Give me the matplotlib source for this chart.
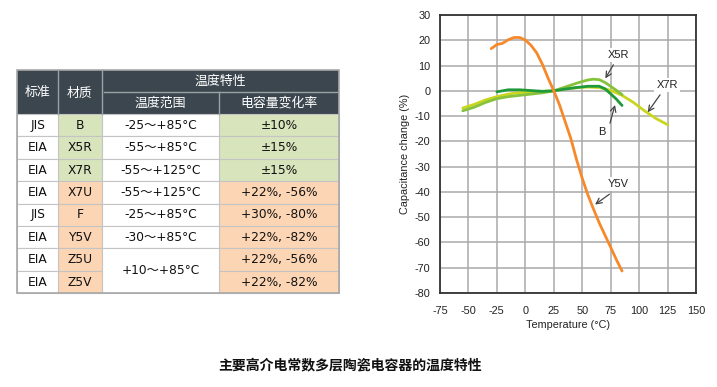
import matplotlib
matplotlib.use("Agg")
import matplotlib.pyplot as plt
from matplotlib.patches import Rectangle

plt.rcParams["axes.unicode_minus"] = False

# ---------------- data ----------------
# Table
col_header_std = "标准"
col_header_mat = "材质"
col_header_group = "温度特性"
col_header_range = "温度范围"
col_header_rate = "电容量变化率"
standards = ["JIS", "EIA", "EIA", "EIA", "JIS", "EIA", "EIA", "EIA"]
materials = ["B", "X5R", "X7R", "X7U", "F", "Y5V", "Z5U", "Z5V"]
temp_ranges = ["-25～+85°C", "-55～+85°C", "-55～+125°C", "-55～+125°C",
               "-25～+85°C", "-30～+85°C", "+10～+85°C", "+10～+85°C"]
change_rates = ["±10%", "±15%", "±15%", "+22%, -56%", "+30%, -80%",
                "+22%, -82%", "+22%, -56%", "+22%, -82%"]
row_group = ["g", "g", "g", "o", "o", "o", "o", "o"]

# Chart series
temp_y5v = [-30, -25, -20, -15, -10, -5, 0, 5, 10, 15, 20, 25, 30, 35, 40, 45, 50, 55, 60, 65, 70, 75, 80, 85]
cap_y5v = [16.7, 18.3, 18.8, 20.2, 21.1, 21.1, 20.1, 18.0, 15.0, 10.5, 5.0, 0.0, -5.5, -12.2, -18.9, -27.2, -34.6, -41.2, -46.9, -52.3, -57.1, -61.9, -66.8, -71.3]

temp_x7r = [-55, -45, -35, -25, -15, -5, 5, 15, 25, 35, 45, 55, 65, 75, 85, 95, 105, 115, 125]
cap_x7r = [-6.8, -5.4, -3.6, -2.3, -1.3, -0.7, -0.4, -0.2, 0.0, 0.8, 1.2, 1.5, 1.3, 0.2, -1.8, -4.6, -8.0, -11.0, -13.4]

temp_x5r = [-55, -45, -35, -25, -15, -5, 5, 15, 25, 35, 45, 55, 60, 65, 70, 75, 80, 85]
cap_x5r = [-7.9, -6.5, -4.6, -3.1, -2.3, -1.8, -1.3, -0.8, 0.0, 1.5, 3.0, 4.3, 4.6, 4.4, 3.3, 1.8, 0.2, -1.5]

temp_b = [-25, -15, -5, 5, 15, 25, 35, 45, 55, 65, 70, 75, 80, 85]
cap_b = [-0.4, 0.4, 0.4, 0.1, -0.2, 0.0, 0.7, 1.3, 1.8, 1.8, 0.8, -1.2, -3.3, -5.8]

x_ticks = [-75, -50, -25, 0, 25, 50, 75, 100, 125, 150]
y_ticks = [30, 20, 10, 0, -10, -20, -30, -40, -50, -60, -70, -80]

caption = "主要高介电常数多层陶瓷电容器的温度特性"

# ---------------- figure ----------------
W, H = 717, 387
fig = plt.figure(figsize=(W / 100, H / 100), dpi=100)
fig.patch.set_facecolor("white")

CJK = ["Noto Sans CJK SC", "DejaVu Sans"]
LAT = ["DejaVu Sans", "Noto Sans CJK SC"]
ARIAL = ["Liberation Sans", "DejaVu Sans"]

# ---------- table (pixel-coordinate overlay) ----------
tax = fig.add_axes([0, 0, 1, 1])
tax.set_xlim(0, W)
tax.set_ylim(H, 0)
tax.axis("off")

hdr = "#3c464e"
green = "#d8e4bc"
orange = "#fcd5b4"
cols = [17, 58, 102, 219, 339]
ytop, ymid, yh = 70, 92, 114
ybot = 293.3
rh = (ybot - yh) / len(materials)

# header background
tax.add_patch(Rectangle((cols[0], ytop), cols[-1] - cols[0], yh - ytop, fc=hdr, ec="none"))
hl = "#9aa2a8"
for x in cols[1:-1]:
    y0 = ytop if x != cols[3] else ymid
    tax.plot([x, x], [y0, yh], color=hl, lw=1.0)
tax.plot([cols[2] + 2, cols[4] - 2], [ymid, ymid], color=hl, lw=1.0)
hfs = 9.3
tax.text((cols[0] + cols[1]) / 2, (ytop + yh) / 2, col_header_std, color="white", ha="center", va="center", fontsize=hfs, family=CJK)
tax.text((cols[1] + cols[2]) / 2, (ytop + yh) / 2 + 1, col_header_mat, color="white", ha="center", va="center", fontsize=hfs, family=CJK)
tax.text((cols[2] + cols[4]) / 2, (ytop + ymid) / 2, col_header_group, color="white", ha="center", va="center", fontsize=hfs, family=CJK)
tax.text((cols[2] + cols[3]) / 2, (ymid + yh) / 2, col_header_range, color="white", ha="center", va="center", fontsize=hfs, family=CJK)
tax.text((cols[3] + cols[4]) / 2, (ymid + yh) / 2, col_header_rate, color="white", ha="center", va="center", fontsize=hfs, family=CJK)

dfs = 8.8
gl = "#c4c4c4"
for i in range(len(materials)):
    y0 = yh + i * rh
    fill = green if row_group[i] == "g" else orange
    tax.add_patch(Rectangle((cols[1], y0), cols[2] - cols[1], rh, fc=fill, ec=gl, lw=0.8))
    tax.add_patch(Rectangle((cols[3], y0), cols[4] - cols[3], rh, fc=fill, ec=gl, lw=0.8))
    tax.add_patch(Rectangle((cols[0], y0), cols[1] - cols[0], rh, fc="white", ec=gl, lw=0.8))
    yc = y0 + rh / 2
    tax.text((cols[0] + cols[1]) / 2, yc, standards[i], ha="center", va="center", fontsize=dfs, family=LAT, color="#111")
    tax.text((cols[1] + cols[2]) / 2, yc, materials[i], ha="center", va="center", fontsize=dfs, family=LAT, color="#111")
    tax.text((cols[3] + cols[4]) / 2, yc, change_rates[i], ha="center", va="center", fontsize=dfs, family=LAT, color="#111")

# temperature range column (merge identical consecutive at the end)
i = 0
n = len(temp_ranges)
while i < n:
    j = i
    while j + 1 < n and temp_ranges[j + 1] == temp_ranges[i] and i >= 6:
        j += 1
    y0 = yh + i * rh
    hgt = (j - i + 1) * rh
    tax.add_patch(Rectangle((cols[2], y0), cols[3] - cols[2], hgt, fc="white", ec=gl, lw=0.8))
    tax.text((cols[2] + cols[3]) / 2, y0 + hgt / 2, temp_ranges[i], ha="center", va="center", fontsize=dfs, family=LAT, color="#111")
    i = j + 1

# outer frame
tax.add_patch(Rectangle((cols[0], ytop), cols[-1] - cols[0], ybot - ytop, fc="none", ec="#a8a8a8", lw=1.2))

# caption
tax.text(350, 365, caption, ha="center", va="center", fontsize=10, fontweight="bold", family=CJK, color="#111")

# ---------- chart ----------
ax = fig.add_axes([440 / W, 1 - 293 / H, (696 - 440) / W, (293 - 15) / H])
ax.set_xlim(-75, 150)
ax.set_ylim(-80, 30)
ax.set_xticks(x_ticks)
ax.set_yticks(y_ticks)
ax.grid(True, color="#a9a9a9", lw=1.1)
ax.set_axisbelow(True)
for s in ax.spines.values():
    s.set_color("#333333")
    s.set_linewidth(1.3)
ax.tick_params(length=0, labelsize=7.8, labelcolor="#222")
ax.tick_params(axis="x", pad=9)
ax.tick_params(axis="y", pad=7)
for lab in ax.get_xticklabels() + ax.get_yticklabels():
    lab.set_family(ARIAL)
ax.set_xlabel("Temperature (°C)", fontsize=7.8, family=ARIAL, color="#222", labelpad=3)
ax.set_ylabel("Capacitance change (%)", fontsize=7.8, family=ARIAL, color="#222", labelpad=3)

ax.plot(temp_x7r, cap_x7r, color="#cad61e", lw=2.0, solid_capstyle="round", zorder=3)
ax.plot(temp_x5r, cap_x5r, color="#86c23c", lw=2.0, solid_capstyle="round", zorder=4)
ax.plot(temp_b, cap_b, color="#1f9a3a", lw=2.0, solid_capstyle="round", zorder=5)
ax.plot(temp_y5v, cap_y5v, color="#f7892b", lw=2.0, solid_capstyle="round", zorder=6)

arrow = dict(arrowstyle="->", color="#444", lw=0.9, shrinkA=0, shrinkB=0)
bbox = dict(fc="white", ec="none", pad=1.5)
tf = dict(fontsize=8, family=ARIAL, color="#222", ha="center", va="center", bbox=bbox, zorder=7)
ax.text(81.5, 14.3, "X5R", **tf)
ax.annotate("", xy=(70.3, 4.9), xytext=(77.4, 10.3), arrowprops=arrow, zorder=7)
ax.text(124.8, 2.4, "X7R", **tf)
ax.annotate("", xy=(107.5, -8.5), xytext=(118.4, -1.6), arrowprops=arrow, zorder=7)
ax.text(67.1, -16.4, "B", **tf)
ax.annotate("", xy=(78.8, -5.6), xytext=(74.4, -12.8), arrowprops=arrow, zorder=7)
ax.text(81.8, -36.9, "Y5V", **tf)
ax.annotate("", xy=(61.3, -45.0), xytext=(73.9, -40.9), arrowprops=arrow, zorder=7)

fig.savefig("out.png", dpi=100, facecolor="white")
